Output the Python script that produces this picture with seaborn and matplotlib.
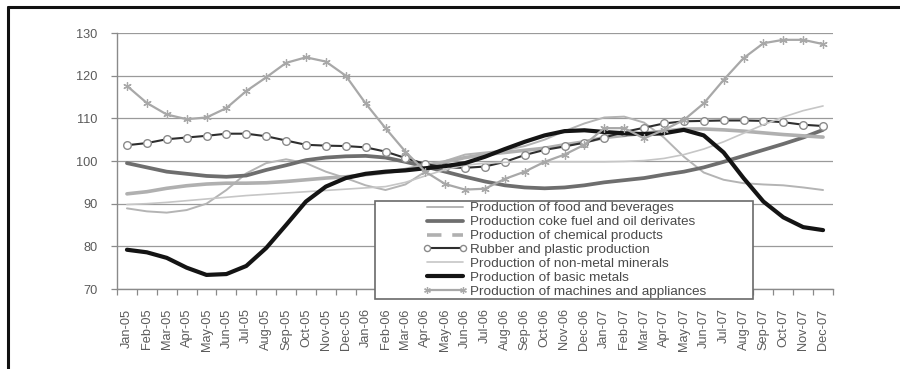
import matplotlib
matplotlib.use("Agg")
import numpy as np
import pandas as pd
import seaborn as sns
import matplotlib.pyplot as plt
from matplotlib.lines import Line2D
from matplotlib.patches import Rectangle

# ---- data -------------------------------------------------------------
months = [f"{m}-{y}" for y in ("05", "06", "07")
          for m in ("Jan", "Feb", "Mar", "Apr", "May", "Jun",
                    "Jul", "Aug", "Sep", "Oct", "Nov", "Dec")]

food = [88.9, 88.2, 87.9, 88.5, 90.0, 93.2, 97.1, 99.5, 100.4, 99.5, 97.5, 96.0,
        94.3, 93.2, 94.5, 97.5, 100.0, 101.5, 102.0, 102.5, 103.5, 105.0, 107.0, 108.8,
        110.2, 110.4, 109.0, 105.5, 101.0, 97.3, 95.6, 94.8, 94.5, 94.3, 93.8, 93.2]
coke = [99.5, 98.5, 97.5, 97.0, 96.5, 96.3, 96.6, 97.9, 99.0, 100.2, 100.8, 101.1,
        101.2, 100.8, 99.8, 98.7, 97.5, 96.3, 95.2, 94.3, 93.8, 93.6, 93.8, 94.3,
        95.0, 95.5, 96.0, 96.8, 97.5, 98.5, 99.8, 101.2, 102.6, 104.0, 105.5, 107.3]
chemical = [92.3, 92.8, 93.6, 94.2, 94.6, 94.8, 94.8, 94.9, 95.2, 95.6, 96.0, 96.3,
            96.8, 97.3, 98.0, 99.0, 99.8, 100.8, 101.5, 102.0, 102.5, 103.0, 103.8, 104.5,
            105.5, 106.0, 106.5, 107.0, 107.5, 107.5, 107.3, 107.0, 106.6, 106.2, 105.9, 105.6]
rubber = [103.7, 104.2, 105.1, 105.5, 105.9, 106.4, 106.4, 105.8, 104.8, 103.8, 103.6, 103.5,
          103.2, 102.2, 100.7, 99.3, 98.5, 98.4, 98.7, 99.8, 101.4, 102.6, 103.4, 104.3,
          105.5, 106.8, 107.8, 108.8, 109.3, 109.4, 109.5, 109.5, 109.4, 109.1, 108.5, 108.2]
nonmetal = [89.8, 90.0, 90.3, 90.7, 91.1, 91.5, 91.9, 92.2, 92.5, 92.8, 93.1, 93.4,
            93.7, 94.0, 95.0, 96.5, 98.0, 99.0, 99.5, 99.7, 99.8, 99.8, 99.8, 99.8,
            99.8, 99.9, 100.1, 100.6, 101.5, 102.8, 104.5, 106.5, 108.5, 110.3, 111.8, 112.9]
metals = [79.2, 78.6, 77.3, 75.0, 73.3, 73.5, 75.4, 79.6, 85.0, 90.5, 94.0, 96.0,
          97.0, 97.5, 97.8, 98.3, 98.8, 99.5, 101.0, 102.8, 104.5, 106.0, 107.0, 107.2,
          106.8, 106.5, 106.3, 106.5, 107.3, 106.0, 102.0, 96.0, 90.5, 86.8, 84.5, 83.8]
machines = [117.6, 113.6, 110.9, 109.8, 110.2, 112.4, 116.4, 119.6, 123.0, 124.3, 123.3, 120.0,
            113.5, 107.7, 102.2, 97.5, 94.6, 93.3, 93.5, 95.8, 97.5, 99.8, 101.5, 103.8,
            107.7, 107.7, 105.3, 107.3, 109.6, 113.5, 119.0, 124.1, 127.6, 128.4, 128.4, 127.4]

series_names = ["Production of food and beverages",
                "Production coke fuel and oil derivates",
                "Production of chemical products",
                "Rubber and plastic production",
                "Production of non-metal minerals",
                "Production of basic metals",
                "Production of machines and appliances"]
series_values = [food, coke, chemical, rubber, nonmetal, metals, machines]

df = pd.concat([pd.DataFrame({"pos": np.arange(len(months)), "month": months,
                              "index": vals, "series": name})
                for name, vals in zip(series_names, series_values)],
               ignore_index=True)

# ---- styling per series ----------------------------------------------
styles = {
    series_names[0]: dict(color="#b4b4b4", lw=1.4),
    series_names[1]: dict(color="#6e6e6e", lw=2.7),
    series_names[2]: dict(color="#b0b0b0", lw=2.6),
    series_names[3]: dict(color="#2e2e2e", lw=1.5, marker="o", markersize=5.5,
                          markerfacecolor="white", markeredgecolor="#8a8a8a",
                          markeredgewidth=1.0),
    series_names[4]: dict(color="#c6c6c6", lw=1.2),
    series_names[5]: dict(color="#141414", lw=3.0),
    series_names[6]: dict(color="#a8a8a8", lw=1.6, marker=(6, 2, 0), markersize=6,
                          markeredgecolor="#a8a8a8", markeredgewidth=0.9),
}
legend_dash = {series_names[2]: (0, (4, 3))}

sns.set_theme(style="white")
plt.rcParams["font.family"] = ["Liberation Sans", "DejaVu Sans"]

fig = plt.figure(figsize=(9, 3.69), dpi=100)
ax = fig.add_axes([117 / 900, 1 - 289 / 369, 716 / 900, 256 / 369])

for name in series_names:
    sub = df[df["series"] == name]
    sns.lineplot(data=sub, x="pos", y="index", ax=ax, legend=False,
                 **styles[name])

ax.set_xlim(-0.5, len(months) - 0.5)
ax.set_ylim(70, 130)
ax.set_yticks(np.arange(70, 131, 10))
ax.set_xticks(np.arange(len(months)))
ax.set_xticklabels(months, rotation=90)
ax.set_xticks(np.arange(-0.5, len(months), 1.0), minor=True)
ax.set_xlabel("")
ax.set_ylabel("")

ax.yaxis.grid(True, color="#9a9a9a", lw=0.9)
ax.xaxis.grid(False)
ax.set_axisbelow(True)
for side in ("top", "right"):
    ax.spines[side].set_visible(False)
for side in ("left", "bottom"):
    ax.spines[side].set_color("#8a8a8a")
    ax.spines[side].set_linewidth(1.0)

ax.tick_params(axis="y", which="major", left=True, length=4, width=0.9,
               color="#8a8a8a", labelsize=9.2, labelcolor="#5a5a5a", pad=10)
ax.tick_params(axis="x", which="major", bottom=True, length=0,
               labelsize=9.2, labelcolor="#5a5a5a", pad=14)
ax.tick_params(axis="x", which="minor", bottom=True, length=4, width=0.9,
               color="#8a8a8a")

# ---- legend box --------------------------------------------------------
fig.add_artist(Rectangle((375 / 900, 1 - 299 / 369), 378 / 900, 98 / 369,
                         transform=fig.transFigure, facecolor="white",
                         edgecolor="#6a6a6a", lw=1.2, zorder=3))
handles = []
for name in series_names:
    st = dict(styles[name])
    ls = legend_dash.get(name, "-")
    handles.append(Line2D([], [], linestyle=ls, **st))
leg = fig.legend(handles, series_names, loc="upper left",
                 bbox_to_anchor=(423 / 900, 1 - 202 / 369),
                 frameon=False, fontsize=9.7, handlelength=3.3,
                 handletextpad=0.2, labelspacing=0.11, borderpad=0,
                 borderaxespad=0, numpoints=2, markerscale=0.8)
leg.set_zorder(4)
for t in leg.get_texts():
    t.set_color("#4a4a4a")

# ---- outer frame lines -------------------------------------------------
fig.add_artist(Line2D([8 / 900, 1], [1 - 7 / 369, 1 - 7 / 369],
                      transform=fig.transFigure, color="#111111", lw=2.2))
fig.add_artist(Line2D([8 / 900, 8 / 900], [0, 1 - 7 / 369],
                      transform=fig.transFigure, color="#111111", lw=2.2))

fig.savefig("out.png", dpi=100, facecolor="white")
